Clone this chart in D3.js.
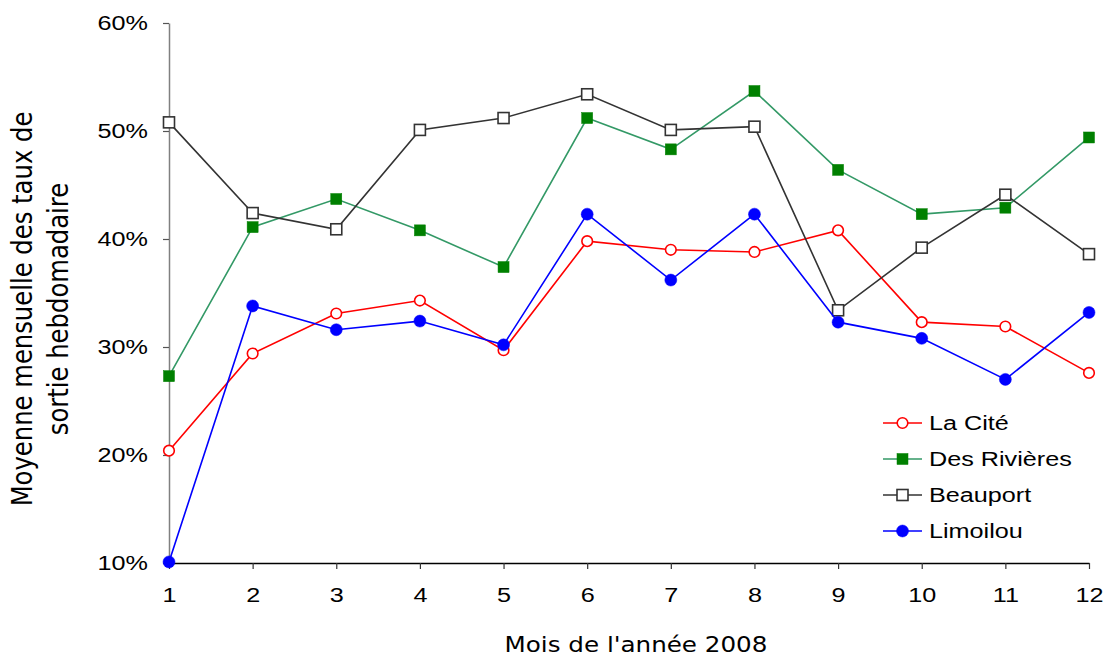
<!DOCTYPE html>
<html>
<head>
<meta charset="utf-8">
<script src="https://cdn.jsdelivr.net/npm/d3@7"></script>
<style>
  html, body { margin: 0; padding: 0; background: #fff; }
  svg { display: block; }
</style>
</head>
<body>
<svg id="chart" width="1106" height="656"></svg>
<script>
// Months of 2008
const months = [1, 2, 3, 4, 5, 6, 7, 8, 9, 10, 11, 12];

// Monthly mean of the weekly exit rate (%) per sector
const laCite      = [20.4, 29.4, 33.1, 34.3, 29.7, 39.8, 39.0, 38.8, 40.8, 32.3, 31.9, 27.6];
const desRivieres = [27.3, 41.1, 43.7, 40.8, 37.4, 51.2, 48.3, 53.7, 46.4, 42.3, 42.9, 49.4];
const beauport    = [50.8, 42.4, 40.9, 50.1, 51.2, 53.4, 50.1, 50.4, 33.4, 39.2, 44.1, 38.6];
const limoilou    = [10.1, 33.8, 31.6, 32.4, 30.2, 42.3, 36.2, 42.3, 32.3, 30.8, 27.0, 33.2];

const yTicks = [10, 20, 30, 40, 50, 60];
const seriesNames = ["La Cité", "Des Rivières", "Beauport", "Limoilou"];
const xTitle = "Mois de l'année 2008";
const yTitle = ["Moyenne mensuelle des taux de", "sortie hebdomadaire"];

const series = [
  { name: seriesNames[0], values: laCite,      line: "#ff0000", marker: "circle", fill: "#ffffff", stroke: "#ff0000" },
  { name: seriesNames[1], values: desRivieres, line: "#339966", marker: "square", fill: "#008000", stroke: "#008000" },
  { name: seriesNames[2], values: beauport,    line: "#333333", marker: "square", fill: "#ffffff", stroke: "#333333" },
  { name: seriesNames[3], values: limoilou,    line: "#0000ff", marker: "circle", fill: "#0000ff", stroke: "#0000ff" }
];

const svg = d3.select("#chart");
const tickFont = "'Liberation Sans', Arial, sans-serif";
const titleFont = "'DejaVu Sans', Verdana, sans-serif";
const stretch = 1.2;      // horizontal widening of the Arial labels
const titleStretch = 1.15; // horizontal widening of the axis titles

const x = d3.scaleLinear().domain([1, 12]).range([169, 1089]);
const y = d3.scaleLinear().domain([10, 60]).range([563, 23]);

// Y axis (grey spine, outward ticks)
const yAxis = svg.append("g")
  .attr("transform", `translate(${x(1)},0)`)
  .call(d3.axisLeft(y).tickValues(yTicks).tickSize(6).tickSizeOuter(0)
    .tickFormat(d => d + "%"));
yAxis.select(".domain").attr("stroke", "#808080").attr("stroke-width", 1.5);
yAxis.selectAll(".tick line").attr("stroke", "#555").attr("stroke-width", 1.2);
yAxis.selectAll(".tick text")
  .attr("x", -21 / stretch)
  .attr("transform", `scale(${stretch},1)`)
  .attr("font-family", tickFont).attr("font-size", 21).attr("fill", "#000");

// X axis (black spine, downward ticks)
const xAxis = svg.append("g")
  .attr("transform", `translate(0,${y(10)})`)
  .call(d3.axisBottom(x).tickValues(months).tickSize(6).tickSizeOuter(0).tickPadding(18)
    .tickFormat(d3.format("d")));
xAxis.select(".domain").attr("stroke", "#000").attr("stroke-width", 1.3);
xAxis.selectAll(".tick line").attr("stroke", "#333").attr("stroke-width", 1.2);
xAxis.selectAll(".tick text")
  .attr("transform", `scale(${stretch},1)`)
  .attr("font-family", tickFont).attr("font-size", 21).attr("fill", "#000");

// Axis titles
svg.append("text")
  .attr("transform", `translate(636,652) scale(${titleStretch},1)`)
  .attr("text-anchor", "middle")
  .attr("font-family", titleFont).attr("font-size", 21.4)
  .attr("fill", "#000")
  .text(xTitle);

const yt = svg.append("text")
  .attr("transform", `translate(32,309) scale(${titleStretch},1) rotate(-90)`)
  .attr("text-anchor", "middle")
  .attr("font-family", titleFont).attr("font-size", 24.3)
  .attr("fill", "#000");
yTitle.forEach((t, i) => {
  yt.append("tspan").attr("x", 0).attr("dy", i === 0 ? 0 : 36 / titleStretch).text(t);
});

// Marker drawing helper
function drawMarker(g, s, cx, cy) {
  if (s.marker === "circle") {
    g.append("circle")
      .attr("cx", cx).attr("cy", cy)
      .attr("r", s.fill === "#ffffff" ? 5.3 : 6)
      .attr("fill", s.fill).attr("stroke", s.stroke)
      .attr("stroke-width", s.fill === "#ffffff" ? 1.6 : 0.5);
  } else {
    const size = 11;
    g.append("rect")
      .attr("x", cx - size / 2).attr("y", cy - size / 2)
      .attr("width", size).attr("height", size)
      .attr("fill", s.fill).attr("stroke", s.stroke)
      .attr("stroke-width", s.fill === "#ffffff" ? 1.6 : 0.5);
  }
}

const line = d3.line().x((d, i) => x(months[i])).y(d => y(d));

// Series lines and markers
series.forEach(s => {
  const g = svg.append("g");
  g.append("path")
    .datum(s.values)
    .attr("d", line)
    .attr("fill", "none")
    .attr("stroke", s.line)
    .attr("stroke-width", 1.6);
  s.values.forEach((v, i) => drawMarker(g, s, x(months[i]), y(v)));
});

// Legend
const legend = svg.append("g");
series.forEach((s, i) => {
  const ly = 423 + i * 36;
  const g = legend.append("g");
  g.append("line")
    .attr("x1", 883).attr("x2", 922).attr("y1", ly).attr("y2", ly)
    .attr("stroke", s.line).attr("stroke-width", 1.6);
  drawMarker(g, s, 902.5, ly);
  g.append("text")
    .attr("transform", `translate(929,${ly}) scale(${stretch},1)`)
    .attr("dy", "0.35em")
    .attr("font-family", tickFont).attr("font-size", 21)
    .attr("fill", "#000")
    .text(s.name);
});
</script>
</body>
</html>
